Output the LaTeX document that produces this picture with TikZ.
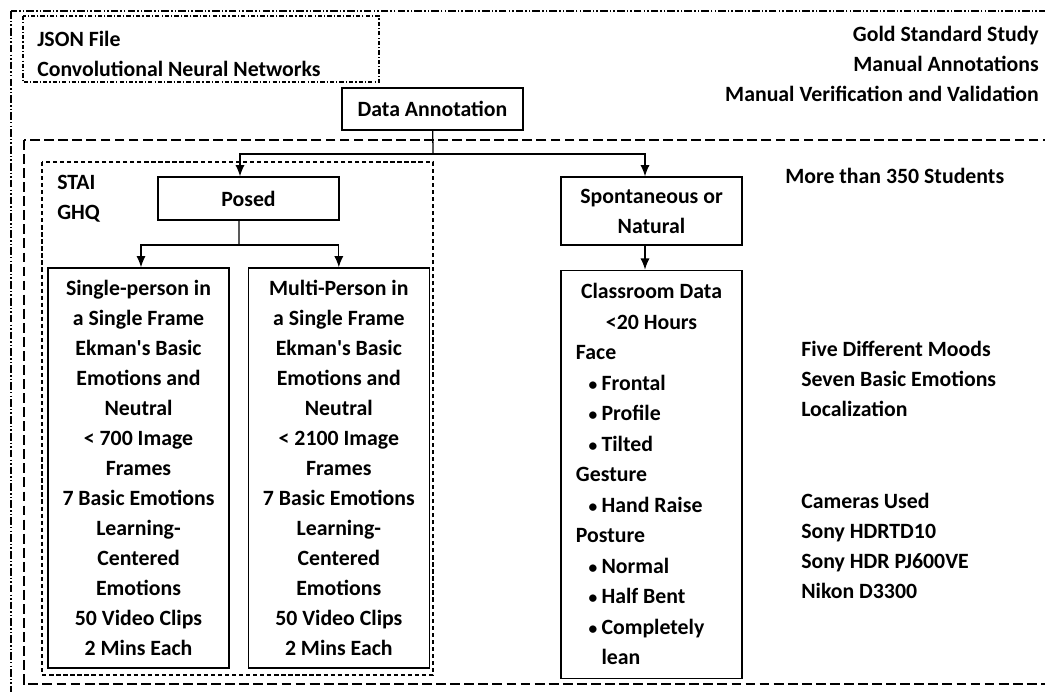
\documentclass[tikz,border=0pt]{standalone}
\usepackage{fontspec}
\setmainfont{Carlito}
\usepackage{tikz}
\usetikzlibrary{positioning}
\usetikzlibrary{arrows.meta}

% left-flushed line inside the classroom box
\newcommand{\row}[1]{\makebox[3.775cm][l]{#1}}
\newcommand{\bul}{\hspace*{9pt}\scalebox{0.8}{\textbullet}\hspace{3pt}}

\begin{document}
\begin{tikzpicture}[x=0.025cm, y=-0.025cm]

  \tikzstyle{note}=[font=\bfseries\fontsize{15.5}{21.3}\selectfont, inner sep=0pt]
  \tikzstyle{block}=[note, rectangle, draw=black, line width=0.9pt, align=center, minimum width=4.525cm]
  \tikzstyle{connect}=[-{Latex[length=8pt, width=6.5pt]}, line width=0.9pt]
  \tikzstyle{wire}=[line width=0.9pt]

  \useasboundingbox (0,0) rectangle (1045,691);
  \clip (0,0) rectangle (1045,691);

  % frames
  \draw[line width=0.8pt, dash pattern=on 5.5pt off 1.5pt on 1pt off 1.5pt on 1pt off 1.5pt] (11,11) rectangle (1070,710);
  \draw[line width=0.8pt, dash pattern=on 3pt off 1.5pt on 0.8pt off 1.5pt] (23,16) rectangle (379,82);
  \draw[line width=0.9pt, dash pattern=on 7pt off 3pt] (24,140) rectangle (1070,684);
  \draw[line width=0.8pt, dash pattern=on 3pt off 2pt] (42,162) rectangle (433,675);

  % boxes
  \node[block, minimum height=1.05cm] (data) at (432.5,109) {Data Annotation};
  \node[block, minimum height=1.075cm] (posed) at (248.5,198.5) {Posed};
  \node[block, minimum height=1.7cm] (spont) at (651.5,211) {Spontaneous or\\Natural};
  \node[block, minimum height=10cm] (single) at (138.5,468) {Single-person in\\a Single Frame\\Ekman\textquotesingle s Basic\\Emotions and\\Neutral\\< 700 Image\\Frames\\7 Basic Emotions\\Learning-\\Centered\\Emotions\\50 Video Clips\\2 Mins Each};
  \node[block, minimum height=10cm, right=0.45cm of single] (multi) {Multi-Person in\\a Single Frame\\Ekman\textquotesingle s Basic\\Emotions and\\Neutral\\< 2100 Image\\Frames\\7 Basic Emotions\\Learning-\\Centered\\Emotions\\50 Video Clips\\2 Mins Each};
  \node[block, minimum height=10.2cm, font=\bfseries\fontsize{15.5}{21.7}\selectfont, below=0.6cm of spont] (room) {Classroom Data\\<20 Hours\\\row{Face}\\\row{\bul Frontal}\\\row{\bul Profile}\\\row{\bul Tilted}\\\row{Gesture}\\\row{\bul Hand Raise}\\\row{Posture}\\\row{\bul Normal}\\\row{\bul Half Bent}\\\row{\bul Completely}\\\row{\hspace*{9pt}\phantom{\scalebox{0.8}{\textbullet}}\hspace{3pt}lean}};

  % free text
  \node[note, anchor=west, align=left] (json) at (37,53.5) {JSON File\\Convolutional Neural Networks};
  \node[note, anchor=east, align=right] (gold) at (1039,63.5) {Gold Standard Study\\Manual Annotations\\Manual Verification and Validation};
  \node[note, anchor=west] (students) at (785,176) {More than 350 Students};
  \node[note, anchor=west, align=left] (scales) at (57,198.5) {STAI\\GHQ};
  \node[note, anchor=west, align=left] (moods) at (801,379) {Five Different Moods\\Seven Basic Emotions\\Localization};
  \node[note, anchor=west, align=left] (cameras) at (801,546) {Cameras Used\\Sony HDRTD10\\Sony HDR PJ600VE\\Nikon D3300};

  % connectors
  \coordinate (fork) at (433,154);
  \coordinate (split) at (239,245);
  \draw[wire] (data) -- (fork);
  \draw[connect] (fork) -| ([xshift=-0.2125cm]posed.north);
  \draw[connect] (fork) -| ([xshift=-0.1625cm]spont.north);
  \draw[wire] ([xshift=-0.2375cm]posed.south) -- (split);
  \draw[connect] (split) -| ([xshift=0.0625cm]single.north);
  \draw[connect] (split) -| (multi.north);
  \path ([xshift=-0.1625cm]spont.south) edge [connect] ([xshift=-0.1625cm]room.north);

\end{tikzpicture}
\end{document}
